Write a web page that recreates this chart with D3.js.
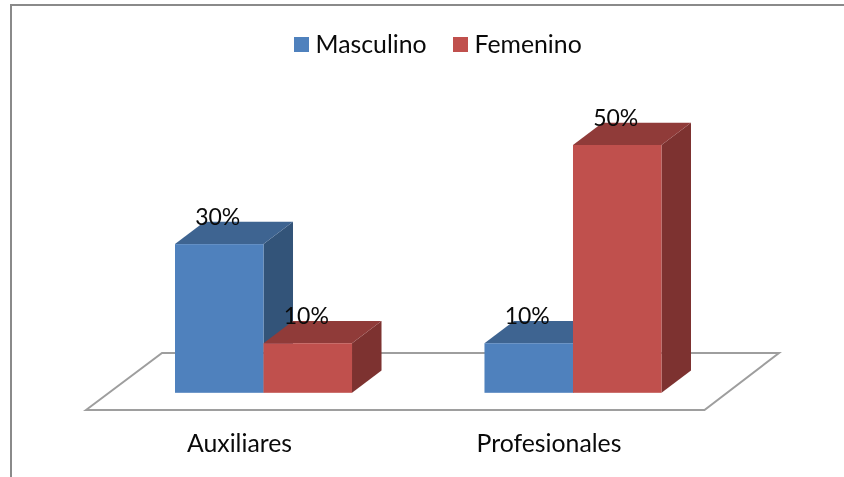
<!DOCTYPE html>
<html><head><meta charset="utf-8">
<script src="https://cdn.jsdelivr.net/npm/d3@7/dist/d3.min.js"></script>
<style>html,body{margin:0;padding:0;background:#fff;overflow:hidden}svg{display:block;filter:blur(0.35px)}text{font-family:Lato,"Open Sans",sans-serif;fill:#0a0a0a}</style>
</head><body><svg id="c" width="844" height="477"></svg>
<script>
const categories = ["Auxiliares", "Profesionales"];
const seriesNames = ["Masculino", "Femenino"];
const masculino = [30, 10];
const femenino = [10, 50];
const seriesValues = [masculino, femenino];
const frontColors = ["#4f81bd", "#c0504d"];
const topColors = ["#3e6491", "#903b39"];
const sideColors = ["#335479", "#7d3230"];

const svg = d3.select("#c");
const depth = {dx: 29.5, dy: -22.3};
const grey = "#9e9e9e";

const x0 = d3.scaleBand().domain(categories).range([175, 661.5]).paddingInner(0.428).paddingOuter(0);
const x1 = d3.scaleBand().domain(seriesNames).range([0, x0.bandwidth()]);
const y = d3.scaleLinear().domain([0, 50]).range([392.8, 145]);

// frame
svg.append("path").attr("d", "M11,477V5H844").attr("fill", "none").attr("stroke", "#8a8a8a").attr("stroke-width", 2);

// floor
svg.append("path").attr("d", "M86,410L162,353H779L704.5,410Z").attr("fill", "#fff").attr("stroke", grey).attr("stroke-width", 2).attr("stroke-linejoin", "miter");

// bars
const bars = [];
categories.forEach((c, ci) => seriesNames.forEach((s, si) => bars.push({c, s, si, v: seriesValues[si][ci]})));
const g = svg.selectAll("g.bar").data(bars).join("g").attr("class", "bar");
const poly = (pts) => "M" + pts.map(p => p.join(",")).join("L") + "Z";
g.append("path").attr("fill", d => sideColors[d.si]).attr("d", d => {
  const r = x0(d.c) + x1(d.s) + x1.bandwidth();
  return poly([[r, y(d.v)], [r + depth.dx, y(d.v) + depth.dy], [r + depth.dx, y(0) + depth.dy], [r, y(0)]]);
});
g.append("path").attr("fill", d => topColors[d.si]).attr("d", d => {
  const l = x0(d.c) + x1(d.s), r = l + x1.bandwidth();
  return poly([[l, y(d.v)], [l + depth.dx, y(d.v) + depth.dy], [r + depth.dx, y(d.v) + depth.dy], [r, y(d.v)]]);
});
g.append("rect").attr("fill", d => frontColors[d.si])
  .attr("x", d => x0(d.c) + x1(d.s)).attr("width", x1.bandwidth())
  .attr("y", d => y(d.v)).attr("height", d => y(0) - y(d.v));

// value labels
svg.selectAll("text.val").data(bars).join("text").attr("class", "val")
  .attr("text-anchor", "middle").attr("font-size", 23)
  .attr("x", d => x0(d.c) + x1(d.s) + x1.bandwidth() / 2 - 1.5)
  .attr("y", d => y(d.v) - 19)
  .text(d => d.v + "%");

// category axis
const axis = d3.axisBottom(x0).tickSize(0).tickPadding(0);
const ax = svg.append("g").attr("transform", "translate(-24,435)").call(axis);
ax.select(".domain").remove();
ax.selectAll("text").attr("font-size", 24.8).attr("dy", 0).attr("y", 17).style("font-family", "Lato");

// legend
const legendX = d3.scaleOrdinal().domain(seriesNames).range([294, 453]);
const lg = svg.selectAll("g.leg").data(seriesNames).join("g").attr("class", "leg")
  .attr("transform", d => `translate(${legendX(d)},37)`);
lg.append("rect").attr("width", 15).attr("height", 15).attr("fill", (d, i) => frontColors[i]);
lg.append("text").attr("x", 21.5).attr("y", 15.5).attr("font-size", 24.8).text(d => d);
</script></body></html>
